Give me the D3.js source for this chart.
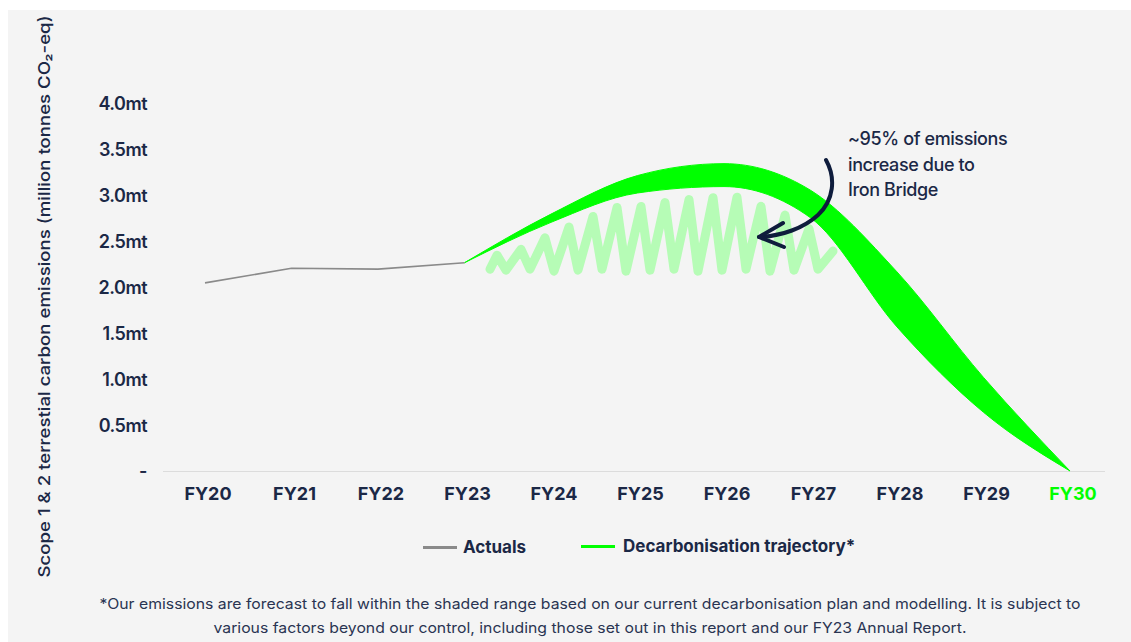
<!DOCTYPE html>
<html><head><meta charset="utf-8">
<script src="https://cdn.jsdelivr.net/npm/d3@7"></script>
<style>
html,body{margin:0;padding:0;background:#fff;}
svg{display:block;}
text{font-family:Inter,"Noto Sans",sans-serif;}
</style></head>
<body>
<svg id="c" width="1131" height="642"></svg>
<script>
// ---- data ----
const categories = ["FY20","FY21","FY22","FY23","FY24","FY25","FY26","FY27","FY28","FY29","FY30"];
const yTicks = [0,0.5,1.0,1.5,2.0,2.5,3.0,3.5,4.0];
const yTickLabels = ["-","0.5mt","1.0mt","1.5mt","2.0mt","2.5mt","3.0mt","3.5mt","4.0mt"];
const actualYears = ["FY20","FY21","FY22","FY23"];
const actualValues = [2.05,2.21,2.20,2.27];
const trajYears = ["FY23","FY24","FY25","FY26","FY27","FY28","FY29","FY30"];
const trajUpper = [2.27,2.80,3.22,3.35,3.06,2.17,1.02,0];
const trajLower = [2.27,2.71,3.03,3.10,2.76,1.57,0.64,0];
const annotationLines = ["~95% of emissions","increase due to","Iron Bridge"];
const legendLabels = ["Actuals","Decarbonisation trajectory*"];
const yTitle = "Scope 1 & 2 terrestial carbon emissions (million tonnes CO\u2082-eq)";
const footnote = ["*Our emissions are forecast to fall within the shaded range based on our current decarbonisation plan and modelling. It is subject to",
                  "various factors beyond our control, including those set out in this report and our FY23 Annual Report."];

const navy = "#1b2846";
const green = "#00ff00";
const svg = d3.select("#c");

svg.append("rect").attr("x",8).attr("y",10).attr("width",1123).attr("height",632).attr("fill","#f4f4f4");

const x = d3.scalePoint().domain(categories).range([205,1070]);
const y = d3.scaleLinear().domain([0,4]).range([471,104]);

// baseline
svg.append("line").attr("x1",163).attr("x2",1105).attr("y1",y(0)+0.5).attr("y2",y(0)+0.5)
  .attr("stroke","#dcdcdc").attr("stroke-width",1.2);

// y tick labels
svg.append("g").selectAll("text").data(yTicks).join("text")
  .attr("x",147).attr("y",d=>y(d)).attr("dy","0.36em")
  .attr("text-anchor","end").attr("fill",navy)
  .attr("font-size",18).attr("font-weight",600).attr("letter-spacing","-0.5")
  .text((d,i)=>yTickLabels[i]);

// x labels
svg.append("g").selectAll("text").data(categories).join("text")
  .attr("x",d=>x(d)+3).attr("y",500)
  .attr("text-anchor","middle").attr("fill",d=>d==="FY30"?green:navy)
  .attr("font-size",18).attr("font-weight",700).attr("letter-spacing","0")
  .text(d=>d);

// y title
svg.append("text").attr("transform","translate(50,296.5) rotate(-90)")
  .attr("text-anchor","middle").attr("fill",navy)
  .attr("font-size",16.5).attr("font-weight",500)
  .attr("textLength",562).attr("lengthAdjust","spacingAndGlyphs")
  .text(yTitle);

// band
const band = trajYears.map((k,i)=>({k,u:trajUpper[i],l:trajLower[i]}));
const curve = d3.curveMonotoneX;
const lowerLine = d3.line().x(d=>x(d.k)).y(d=>y(d.l)).curve(curve);

// scribble (decorative hatching under the band)
const tmp = svg.append("path").attr("d",lowerLine(band)).attr("fill","none").attr("stroke","none");
const node = tmp.node(); const L = node.getTotalLength();
function lowerYAt(px){ let a=0,b=L; for(let i=0;i<30;i++){const m=(a+b)/2; if(node.getPointAtLength(m).x<px)a=m; else b=m;} return node.getPointAtLength(a).y; }
tmp.remove();
const scribPts=[]; const bottomY=y(2.2);
let sx=497, up=true, k=0;
while(sx<842){
  if(up){ const top=Math.min(lowerYAt(sx)+10+((k*7)%5), bottomY-14); scribPts.push([sx,top]); }
  else { scribPts.push([sx, bottomY + (k%3)]); }
  sx += up?9:15; up=!up; k++;
}
scribPts.unshift([490,bottomY]);
svg.append("path").attr("d",d3.line()(scribPts)).attr("fill","none")
  .attr("stroke","#b6fcb6").attr("stroke-width",9).attr("stroke-linejoin","round").attr("stroke-linecap","round");

const area = d3.area().x(d=>x(d.k)).y0(d=>y(d.l)).y1(d=>y(d.u)).curve(curve);
svg.append("path").attr("d",area(band)).attr("fill",green).attr("stroke",green).attr("stroke-width",1);

// actuals
svg.append("path").datum(actualYears.map((k,i)=>({k,v:actualValues[i]})))
  .attr("d",d3.line().x(d=>x(d.k)).y(d=>y(d.v)))
  .attr("fill","none").attr("stroke","#8a8a8a").attr("stroke-width",1.6);

// arrow
const arrowCol="#0e1c3c";
svg.append("path").attr("d","M826,160 C836,178 834,200 818,215 C804,228 782,236 759,237")
  .attr("fill","none").attr("stroke",arrowCol).attr("stroke-width",4).attr("stroke-linecap","round");
svg.append("path").attr("d","M783,223 L759,237 L784,247")
  .attr("fill","none").attr("stroke",arrowCol).attr("stroke-width",4).attr("stroke-linecap","round").attr("stroke-linejoin","round");

// annotation
svg.append("g").selectAll("text").data(annotationLines).join("text")
  .attr("x",848).attr("y",(d,i)=>145+i*25.5).attr("fill",navy)
  .attr("font-size",18).attr("font-weight",500).attr("letter-spacing","-0.4")
  .text(d=>d);

// legend
const lg = svg.append("g");
lg.append("line").attr("x1",423).attr("x2",457).attr("y1",547.5).attr("y2",547.5).attr("stroke","#8a8a8a").attr("stroke-width",3);
lg.append("text").attr("x",463).attr("y",553).attr("fill",navy).attr("font-size",17).attr("font-weight",700).text(legendLabels[0]);
lg.append("line").attr("x1",581).attr("x2",615).attr("y1",546.5).attr("y2",546.5).attr("stroke",green).attr("stroke-width",3);
lg.append("text").attr("x",623).attr("y",552).attr("fill",navy).attr("font-size",17).attr("font-weight",700).text(legendLabels[1]);

// footnote
const fl=[981,753];
svg.append("g").selectAll("text").data(footnote).join("text")
  .attr("x",590).attr("y",(d,i)=>609+i*24).attr("text-anchor","middle")
  .attr("fill","#2a3452").attr("font-size",14.5)
  .attr("textLength",(d,i)=>fl[i]).attr("lengthAdjust","spacingAndGlyphs")
  .text(d=>d);
</script>
</body></html>
